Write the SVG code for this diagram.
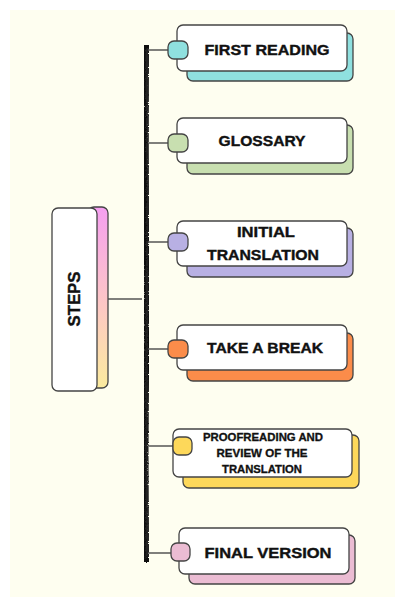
<svg xmlns="http://www.w3.org/2000/svg" width="395" height="597" viewBox="0 0 395 597">
  <defs>
    <linearGradient id="stepsGrad" x1="0" y1="0" x2="0" y2="1">
      <stop offset="0" stop-color="#f59ff0"/>
      <stop offset="0.55" stop-color="#fdc8c4"/>
      <stop offset="1" stop-color="#fbeb9e"/>
    </linearGradient>
    <filter id="rough" x="-50%" y="-5%" width="200%" height="110%">
      <feTurbulence type="fractalNoise" baseFrequency="0.9" numOctaves="2" seed="3" result="n"/>
      <feDisplacementMap in="SourceGraphic" in2="n" scale="4" xChannelSelector="R" yChannelSelector="G"/>
    </filter>
    <style>
      .bg { fill: #fefef0; }
      .card { fill: #ffffff; stroke: #444444; stroke-width: 1.3; }
      .shadow { stroke: #444444; stroke-width: 1.3; }
      .dot { stroke: #444444; stroke-width: 1.3; }
      .link { stroke: #555555; stroke-width: 1.5; fill: none; }
      .lbl { font-family: "Liberation Sans", Arial, sans-serif; font-weight: bold; fill: #111111; text-anchor: middle; stroke: #111111; stroke-width: 0.4; }
      .big { font-size: 15px; }
      .small { font-size: 10px; stroke-width: 0.3; }
    </style>
  </defs>

  <rect class="bg" x="10" y="10" width="385" height="587"/>

  <g id="connectors">
    <g filter="url(#rough)">
      <path d="M146,45 L145.5,150 L146.5,300 L145.5,450 L146,562" stroke="#111" stroke-width="6" fill="none"/>
      <path d="M147,48 L147.5,200 L146.5,400 L147,558" stroke="#222" stroke-width="2.5" fill="none"/>
    </g>
    <line class="link" x1="108" y1="299" x2="142" y2="299"/>
    <line class="link" x1="148" y1="50" x2="170" y2="50"/>
    <line class="link" x1="148" y1="143" x2="170" y2="143"/>
    <line class="link" x1="148" y1="242" x2="170" y2="242"/>
    <line class="link" x1="148" y1="349" x2="170" y2="349"/>
    <line class="link" x1="148" y1="446" x2="174" y2="446"/>
    <line class="link" x1="148" y1="553" x2="172" y2="553"/>
  </g>

  <g id="steps">
    <rect class="shadow" x="88" y="207" width="20" height="181" rx="6" fill="url(#stepsGrad)"/>
    <rect class="card" x="52" y="208" width="45" height="183" rx="6"/>
    <text class="lbl big" transform="translate(80,299) rotate(-90)" textLength="55" lengthAdjust="spacingAndGlyphs" style="font-size:17px">STEPS</text>
  </g>

  <g id="first-reading">
    <rect class="shadow" x="187" y="33" width="166" height="48" rx="6" fill="#8fe0df"/>
    <rect class="card" x="177" y="25" width="170" height="46" rx="6"/>
    <rect class="dot" x="168" y="41" width="20" height="18" rx="6" fill="#8fe0df"/>
    <text class="lbl big" x="267" y="55" textLength="125" lengthAdjust="spacingAndGlyphs">FIRST READING</text>
  </g>

  <g id="glossary">
    <rect class="shadow" x="187" y="125" width="166" height="49" rx="6" fill="#c8dfb0"/>
    <rect class="card" x="177" y="118" width="170" height="45" rx="6"/>
    <rect class="dot" x="168" y="134" width="20" height="18" rx="6" fill="#c8dfb0"/>
    <text class="lbl big" x="262" y="146" textLength="87" lengthAdjust="spacingAndGlyphs">GLOSSARY</text>
  </g>

  <g id="initial-translation">
    <rect class="shadow" x="187" y="228" width="166" height="49" rx="6" fill="#b8b0e3"/>
    <rect class="card" x="177" y="221" width="170" height="45" rx="6"/>
    <rect class="dot" x="168" y="233" width="20" height="18" rx="6" fill="#b8b0e3"/>
    <text class="lbl big" x="266" y="237" textLength="58" lengthAdjust="spacingAndGlyphs">INITIAL</text>
    <text class="lbl big" x="263" y="260" textLength="112" lengthAdjust="spacingAndGlyphs">TRANSLATION</text>
  </g>

  <g id="take-a-break">
    <rect class="shadow" x="187" y="333" width="166" height="48" rx="6" fill="#fb8c4a"/>
    <rect class="card" x="177" y="325" width="170" height="45" rx="6"/>
    <rect class="dot" x="168" y="340" width="20" height="18" rx="6" fill="#fb8c4a"/>
    <text class="lbl big" x="265" y="353" textLength="116" lengthAdjust="spacingAndGlyphs">TAKE A BREAK</text>
  </g>

  <g id="proofreading">
    <rect class="shadow" x="183" y="435" width="176" height="53" rx="6" fill="#fdd85a"/>
    <rect class="card" x="173" y="429" width="179" height="48" rx="6"/>
    <rect class="dot" x="173" y="437" width="19" height="18" rx="6" fill="#fdd85a"/>
    <text class="lbl small" x="263" y="441" textLength="120" lengthAdjust="spacingAndGlyphs">PROOFREADING AND</text>
    <text class="lbl small" x="262" y="457" textLength="91" lengthAdjust="spacingAndGlyphs">REVIEW OF THE</text>
    <text class="lbl small" x="262" y="473" textLength="80" lengthAdjust="spacingAndGlyphs">TRANSLATION</text>
  </g>

  <g id="final-version">
    <rect class="shadow" x="189" y="535" width="166" height="49" rx="6" fill="#ebbcd3"/>
    <rect class="card" x="179" y="528" width="170" height="46" rx="6"/>
    <rect class="dot" x="171" y="543" width="19" height="18" rx="6" fill="#ebbcd3"/>
    <text class="lbl big" x="268" y="558" textLength="127" lengthAdjust="spacingAndGlyphs">FINAL VERSION</text>
  </g>
</svg>
